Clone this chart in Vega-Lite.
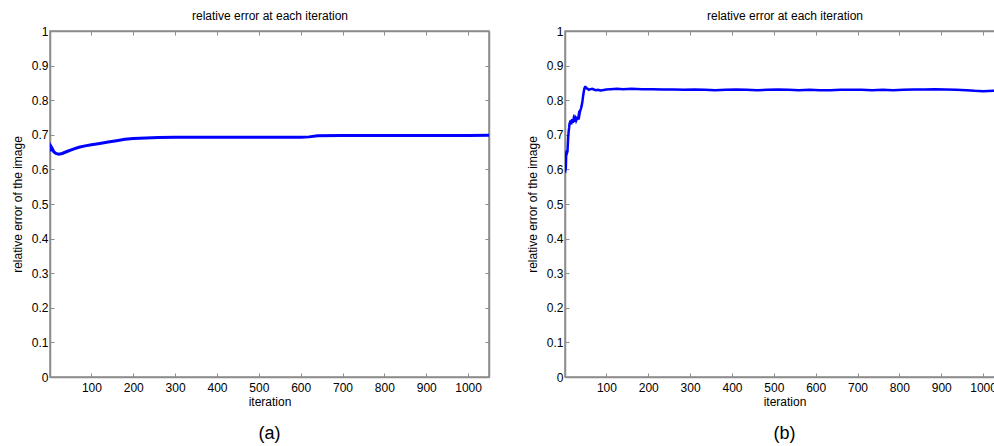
{
  "$schema": "https://vega.github.io/schema/vega-lite/v6.json",
  "padding": {"left": 10, "top": 8, "right": 0, "bottom": 0},
  "background": "white",
  "config": {
    "font": "Liberation Sans",
    "view": {"stroke": "#8c8c8c", "strokeWidth": 1.5},
    "axis": {
      "domainColor": "#8c8c8c", "domainWidth": 1.5,
      "tickColor": "#8c8c8c", "tickWidth": 1, "tickSize": -4,
      "grid": false,
      "labelFont": "Liberation Sans", "labelFontSize": 12, "labelColor": "#000",
      "titleFont": "Liberation Sans", "titleFontSize": 12, "titleFontWeight": "normal", "titleColor": "#000"
    },
    "title": {"font": "Liberation Sans", "fontWeight": "normal", "color": "#000"}
  },
  "datasets": {
    "a": [
      {"iter": 1, "err": 0.652}, {"iter": 3, "err": 0.667}, {"iter": 6, "err": 0.661},
      {"iter": 10, "err": 0.651}, {"iter": 15, "err": 0.646}, {"iter": 22, "err": 0.644},
      {"iter": 30, "err": 0.646}, {"iter": 40, "err": 0.651}, {"iter": 55, "err": 0.658},
      {"iter": 70, "err": 0.664}, {"iter": 85, "err": 0.668}, {"iter": 100, "err": 0.671},
      {"iter": 120, "err": 0.675}, {"iter": 140, "err": 0.679}, {"iter": 160, "err": 0.683},
      {"iter": 180, "err": 0.687}, {"iter": 200, "err": 0.689}, {"iter": 230, "err": 0.691},
      {"iter": 260, "err": 0.692}, {"iter": 300, "err": 0.693}, {"iter": 400, "err": 0.693},
      {"iter": 500, "err": 0.693}, {"iter": 600, "err": 0.693}, {"iter": 620, "err": 0.694},
      {"iter": 640, "err": 0.697}, {"iter": 700, "err": 0.698}, {"iter": 800, "err": 0.698},
      {"iter": 900, "err": 0.698}, {"iter": 1000, "err": 0.698}, {"iter": 1050, "err": 0.699}
    ],
    "b": [
      {"iter": 1, "err": 0.600}, {"iter": 2, "err": 0.598}, {"iter": 3, "err": 0.606},
      {"iter": 4, "err": 0.650}, {"iter": 5, "err": 0.652}, {"iter": 6, "err": 0.648},
      {"iter": 7, "err": 0.652}, {"iter": 8, "err": 0.680}, {"iter": 9, "err": 0.700},
      {"iter": 10, "err": 0.712}, {"iter": 11, "err": 0.722}, {"iter": 12, "err": 0.735},
      {"iter": 13, "err": 0.730}, {"iter": 14, "err": 0.742}, {"iter": 15, "err": 0.735},
      {"iter": 16, "err": 0.730}, {"iter": 17, "err": 0.738}, {"iter": 18, "err": 0.745},
      {"iter": 19, "err": 0.740}, {"iter": 20, "err": 0.735}, {"iter": 21, "err": 0.742},
      {"iter": 22, "err": 0.748}, {"iter": 23, "err": 0.745}, {"iter": 24, "err": 0.738},
      {"iter": 25, "err": 0.742}, {"iter": 26, "err": 0.750}, {"iter": 27, "err": 0.748},
      {"iter": 28, "err": 0.742}, {"iter": 29, "err": 0.745}, {"iter": 30, "err": 0.752},
      {"iter": 31, "err": 0.748}, {"iter": 32, "err": 0.744}, {"iter": 33, "err": 0.750},
      {"iter": 34, "err": 0.758}, {"iter": 35, "err": 0.755}, {"iter": 36, "err": 0.762},
      {"iter": 37, "err": 0.768}, {"iter": 38, "err": 0.772}, {"iter": 39, "err": 0.775},
      {"iter": 40, "err": 0.780}, {"iter": 41, "err": 0.785}, {"iter": 42, "err": 0.792},
      {"iter": 43, "err": 0.800}, {"iter": 44, "err": 0.810}, {"iter": 45, "err": 0.818},
      {"iter": 46, "err": 0.826}, {"iter": 47, "err": 0.832}, {"iter": 48, "err": 0.836},
      {"iter": 49, "err": 0.838}, {"iter": 50, "err": 0.838}, {"iter": 52, "err": 0.835},
      {"iter": 55, "err": 0.833}, {"iter": 58, "err": 0.830}, {"iter": 62, "err": 0.832},
      {"iter": 66, "err": 0.833}, {"iter": 70, "err": 0.831}, {"iter": 75, "err": 0.829},
      {"iter": 80, "err": 0.830}, {"iter": 85, "err": 0.828}, {"iter": 90, "err": 0.829},
      {"iter": 100, "err": 0.831}, {"iter": 110, "err": 0.832}, {"iter": 125, "err": 0.833},
      {"iter": 140, "err": 0.832}, {"iter": 160, "err": 0.833}, {"iter": 185, "err": 0.832},
      {"iter": 210, "err": 0.832}, {"iter": 235, "err": 0.831}, {"iter": 260, "err": 0.831},
      {"iter": 285, "err": 0.830}, {"iter": 310, "err": 0.831}, {"iter": 335, "err": 0.830},
      {"iter": 360, "err": 0.829}, {"iter": 385, "err": 0.830}, {"iter": 410, "err": 0.831},
      {"iter": 435, "err": 0.830}, {"iter": 460, "err": 0.829}, {"iter": 485, "err": 0.830},
      {"iter": 510, "err": 0.831}, {"iter": 535, "err": 0.830}, {"iter": 560, "err": 0.829},
      {"iter": 585, "err": 0.830}, {"iter": 610, "err": 0.829}, {"iter": 635, "err": 0.829},
      {"iter": 660, "err": 0.830}, {"iter": 685, "err": 0.830}, {"iter": 710, "err": 0.830},
      {"iter": 735, "err": 0.829}, {"iter": 760, "err": 0.830}, {"iter": 785, "err": 0.829},
      {"iter": 810, "err": 0.830}, {"iter": 835, "err": 0.831}, {"iter": 860, "err": 0.831},
      {"iter": 885, "err": 0.832}, {"iter": 910, "err": 0.831}, {"iter": 935, "err": 0.830},
      {"iter": 960, "err": 0.829}, {"iter": 980, "err": 0.827}, {"iter": 1000, "err": 0.826},
      {"iter": 1025, "err": 0.827}, {"iter": 1050, "err": 0.827}
    ]
  },
  "spacing": 34,
  "hconcat": [
    {
      "title": {"text": "(a)", "orient": "bottom", "fontSize": 18, "offset": 18},
      "width": 439, "height": 346,
      "data": {"name": "a"},
      "layer": [
        {
          "mark": {"type": "line", "color": "#0000ff", "strokeWidth": 3, "clip": true},
          "encoding": {
            "x": {"field": "iter", "type": "quantitative",
              "scale": {"domain": [1, 1050], "nice": false, "zero": false},
              "axis": {"title": "iteration", "values": [100, 200, 300, 400, 500, 600, 700, 800, 900, 1000], "labelExpr": "'' + datum.value", "labelPadding": 9, "titlePadding": 3}},
            "y": {"field": "err", "type": "quantitative",
              "scale": {"domain": [0, 1], "nice": false, "zero": false},
              "axis": {"title": "relative error of the image", "values": [0, 0.1, 0.2, 0.3, 0.4, 0.5, 0.6, 0.7, 0.8, 0.9, 1], "labelExpr": "'' + datum.value", "labelPadding": 6, "titlePadding": 7}}
          }
        },
        {
          "mark": {"type": "line", "opacity": 0},
          "encoding": {
            "x": {"field": "iter", "type": "quantitative",
              "scale": {"domain": [1, 1050], "nice": false, "zero": false},
              "axis": {"orient": "top", "title": "relative error at each iteration", "titlePadding": 8, "labels": false, "values": [100, 200, 300, 400, 500, 600, 700, 800, 900, 1000]}},
            "y": {"field": "err", "type": "quantitative",
              "scale": {"domain": [0, 1], "nice": false, "zero": false},
              "axis": {"orient": "right", "title": null, "labels": false, "values": [0.1, 0.2, 0.3, 0.4, 0.5, 0.6, 0.7, 0.8, 0.9]}}
          }
        }
      ],
      "resolve": {"axis": {"x": "independent", "y": "independent"}}
    },
    {
      "title": {"text": "(b)", "orient": "bottom", "fontSize": 18, "offset": 18},
      "width": 439, "height": 346,
      "data": {"name": "b"},
      "layer": [
        {
          "mark": {"type": "line", "color": "#0000ff", "strokeWidth": 2.5, "clip": true},
          "encoding": {
            "x": {"field": "iter", "type": "quantitative",
              "scale": {"domain": [1, 1050], "nice": false, "zero": false},
              "axis": {"title": "iteration", "values": [100, 200, 300, 400, 500, 600, 700, 800, 900, 1000], "labelExpr": "'' + datum.value", "labelPadding": 9, "titlePadding": 3}},
            "y": {"field": "err", "type": "quantitative",
              "scale": {"domain": [0, 1], "nice": false, "zero": false},
              "axis": {"title": "relative error of the image", "values": [0, 0.1, 0.2, 0.3, 0.4, 0.5, 0.6, 0.7, 0.8, 0.9, 1], "labelExpr": "'' + datum.value", "labelPadding": 6, "titlePadding": 7}}
          }
        },
        {
          "mark": {"type": "line", "opacity": 0},
          "encoding": {
            "x": {"field": "iter", "type": "quantitative",
              "scale": {"domain": [1, 1050], "nice": false, "zero": false},
              "axis": {"orient": "top", "title": "relative error at each iteration", "titlePadding": 8, "labels": false, "values": [100, 200, 300, 400, 500, 600, 700, 800, 900, 1000]}},
            "y": {"field": "err", "type": "quantitative",
              "scale": {"domain": [0, 1], "nice": false, "zero": false},
              "axis": {"orient": "right", "title": null, "labels": false, "values": [0.1, 0.2, 0.3, 0.4, 0.5, 0.6, 0.7, 0.8, 0.9]}}
          }
        }
      ],
      "resolve": {"axis": {"x": "independent", "y": "independent"}}
    }
  ]
}
